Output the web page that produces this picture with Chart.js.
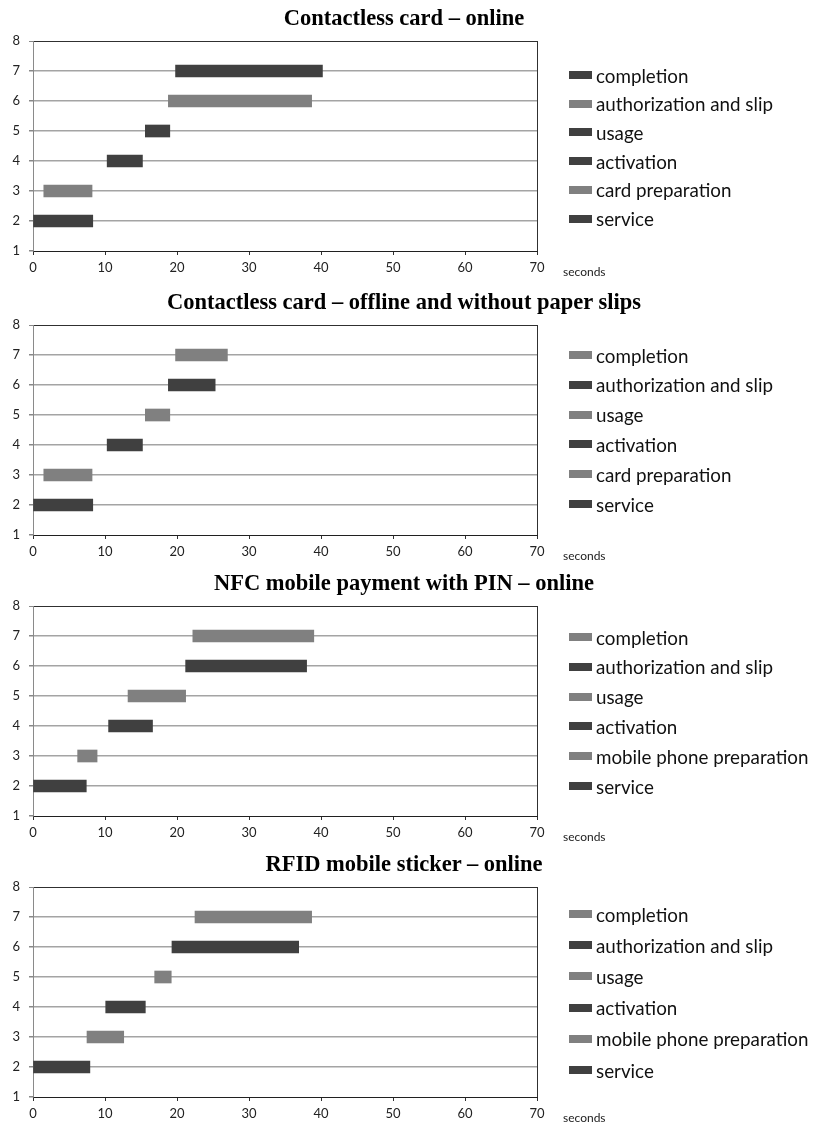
<!DOCTYPE html>
<html>
<head>
<meta charset="utf-8">
<title>Payment process timing</title>
<script src="https://cdn.jsdelivr.net/npm/chart.js@4.4.1/dist/chart.umd.min.js"></script>
<style>
  html, body { margin: 0; padding: 0; background: #fff; overflow: hidden; }
  #page { position: relative; width: 818px; height: 1124px; overflow: hidden; background: #fff; }
  .panel { position: absolute; left: 0; width: 818px; height: 284px; }
  .panel canvas { position: absolute; left: 0; top: 0; }
  .title { position: absolute; left: 0; width: 808px; text-align: center; white-space: nowrap;
           font: bold 22.5px "Liberation Serif", "Times New Roman", serif; line-height: 26px; color: #000; }
  .legend-item { position: absolute; left: 569px; height: 20px; display: flex; align-items: center;
                 white-space: nowrap; font: 18.8px Lato, "Open Sans", sans-serif; color: #111; }
  .swatch { width: 23px; height: 8px; margin-right: 4px; flex: none; }
  .unit { position: absolute; left: 563px; height: 14px; line-height: 14px;
          font: 12px Lato, sans-serif; color: #222; }
</style>
</head>
<body>
<div id="page"></div>
<script>
// Process phases, listed top row first (rows 7 down to 2)
const ROWS = [7, 6, 5, 4, 3, 2];
const X_MIN = 0, X_MAX = 70, X_STEP = 10;
const Y_MIN = 1, Y_MAX = 8, Y_STEP = 1;
const UNIT = 'seconds';

const TITLES = [
  'Contactless card \u2013 online',
  'Contactless card \u2013 offline and without paper slips',
  'NFC mobile payment with PIN \u2013 online',
  'RFID mobile sticker \u2013 online'
];

const PHASES_CARD = ['completion', 'authorization and slip', 'usage', 'activation', 'card preparation', 'service'];
const PHASES_MOBILE = ['completion', 'authorization and slip', 'usage', 'activation', 'mobile phone preparation', 'service'];

// Start / end time (seconds) of each phase
const cardOnlineStart  = [19.8, 18.8, 15.6, 10.3, 1.5, 0];
const cardOnlineEnd    = [40.2, 38.7, 19.0, 15.2, 8.2, 8.3];
const cardOfflineStart = [19.8, 18.8, 15.6, 10.3, 1.5, 0];
const cardOfflineEnd   = [27.0, 25.3, 19.0, 15.2, 8.2, 8.3];
const nfcStart         = [22.2, 21.2, 13.2, 10.5, 6.2, 0];
const nfcEnd           = [39.0, 38.0, 21.2, 16.6, 8.9, 7.4];
const rfidStart        = [22.5, 19.3, 16.9, 10.1, 7.5, 0];
const rfidEnd          = [38.7, 36.9, 19.2, 15.6, 12.6, 7.9];

// Bar shading per phase
const DARK = '#404040', LIGHT = '#808080';
const shadesCardOnline  = [DARK, LIGHT, DARK, DARK, LIGHT, DARK];
const shadesAlternating = [LIGHT, DARK, LIGHT, DARK, LIGHT, DARK];

const panels = [
  { title: TITLES[0], phases: PHASES_CARD,   start: cardOnlineStart,  end: cardOnlineEnd,  shades: shadesCardOnline },
  { title: TITLES[1], phases: PHASES_CARD,   start: cardOfflineStart, end: cardOfflineEnd, shades: shadesAlternating },
  { title: TITLES[2], phases: PHASES_MOBILE, start: nfcStart,         end: nfcEnd,         shades: shadesAlternating },
  { title: TITLES[3], phases: PHASES_MOBILE, start: rfidStart,        end: rfidEnd,        shades: shadesAlternating }
];

// Page layout: top of each plot area, and legend row placement
const PLOT_TOPS = [41, 325, 606, 887];
const PLOT_H = 210;
const PAD_TOP = 41;
const LEGEND_FIRST = [34, 30, 31, 27];
const LEGEND_STEP = [28.7, 29.8, 29.8, 31.2];

const page = document.getElementById('page');
const tickFont = { family: 'Lato, sans-serif', size: 13 };

panels.forEach((p, k) => {
  const top = PLOT_TOPS[k];

  const wrap = document.createElement('div');
  wrap.className = 'panel';
  wrap.style.top = (top - PAD_TOP) + 'px';
  page.appendChild(wrap);

  const canvas = document.createElement('canvas');
  canvas.width = 818;
  canvas.height = 284;
  wrap.appendChild(canvas);

  const title = document.createElement('div');
  title.className = 'title';
  title.style.top = (top - 36) + 'px';
  title.textContent = p.title;
  page.appendChild(title);

  p.phases.forEach((name, i) => {
    const item = document.createElement('div');
    item.className = 'legend-item';
    item.style.top = (top + LEGEND_FIRST[k] + i * LEGEND_STEP[k] - 10) + 'px';
    const sw = document.createElement('span');
    sw.className = 'swatch';
    sw.style.background = p.shades[i];
    const tx = document.createElement('span');
    tx.textContent = name;
    item.appendChild(sw);
    item.appendChild(tx);
    page.appendChild(item);
  });

  const unit = document.createElement('div');
  unit.className = 'unit';
  unit.style.top = (top + PLOT_H + 13) + 'px';
  unit.textContent = UNIT;
  page.appendChild(unit);

  new Chart(canvas, {
    type: 'bar',
    data: {
      datasets: p.phases.map((name, i) => ({
        label: name,
        data: [{ x: [p.start[i], p.end[i]], y: ROWS[i] }],
        backgroundColor: p.shades[i],
        borderWidth: 0,
        barThickness: 12,
        grouped: false
      }))
    },
    options: {
      indexAxis: 'y',
      responsive: false,
      animation: false,
      events: [],
      layout: { padding: { top: PAD_TOP, right: 281, bottom: 3, left: 0 } },
      plugins: {
        legend: { display: false },
        tooltip: { enabled: false },
        title: { display: false }
      },
      scales: {
        x: {
          type: 'linear',
          position: 'bottom',
          min: X_MIN, max: X_MAX,
          offset: false,
          ticks: { stepSize: X_STEP, padding: 5, font: tickFont, color: '#222', maxRotation: 0, autoSkip: false },
          grid: {
            offset: false,
            color: c => (c.tick && c.tick.value === X_MAX) ? '#303030' : 'rgba(0,0,0,0)',
            tickColor: '#303030',
            tickLength: 4,
            lineWidth: 1
          },
          border: { color: '#202020', width: 1 },
          afterFit: s => { s.height = 30; }
        },
        y: {
          type: 'linear',
          min: Y_MIN, max: Y_MAX,
          offset: false,
          ticks: { stepSize: Y_STEP, padding: 9, font: tickFont, color: '#222' },
          grid: {
            offset: false,
            color: c => {
              const v = c.tick && c.tick.value;
              if (v === Y_MAX) return '#303030';
              if (v === Y_MIN) return 'rgba(0,0,0,0)';
              return '#a4a4a4';
            },
            lineWidth: c => (c.tick && c.tick.value === Y_MAX) ? 1 : 1.5,
            tickColor: '#888888',
            tickLength: 4
          },
          border: { color: '#8a8a8a', width: 1 },
          afterFit: s => { s.width = 33; }
        }
      }
    }
  });
});
</script>
</body>
</html>
